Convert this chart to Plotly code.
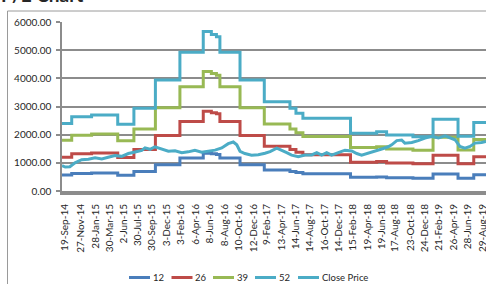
import pandas as pd
import plotly.graph_objects as go

# ---- data ----
tick_labels = ["19-Sep-14", "27-Nov-14", "28-Jan-15", "30-Mar-15", "2-Jun-15", "30-Jul-15",
               "30-Sep-15", "3-Dec-15", "3-Feb-16", "6-Apr-16", "8-Jun-16", "8-Aug-16",
               "10-Oct-16", "12-Dec-16", "9-Feb-17", "13-Apr-17", "14-Jun-17", "14-Aug-17",
               "16-Oct-17", "14-Dec-17", "15-Feb-18", "19-Apr-18", "19-Jun-18", "17-Aug-18",
               "23-Oct-18", "24-Dec-18", "21-Feb-19", "26-Apr-19", "28-Jun-19", "29-Aug-19"]

band_dates = ["2014-09-06", "2014-10-18", "2015-01-12", "2015-05-05", "2015-07-14", "2015-10-15",
              "2016-01-29", "2016-05-09", "2016-06-13", "2016-07-05", "2016-07-20", "2016-10-15",
              "2017-01-28", "2017-05-19", "2017-06-14", "2017-07-14", "2018-02-05", "2018-05-29",
              "2018-07-11", "2018-11-02", "2019-01-28", "2019-05-16", "2019-07-23", "2019-09-20"]

pe12 = [570, 625, 640, 560, 695, 935, 1170, 1340, 1320, 1300, 1170, 935,
        750, 695, 655, 610, 485, 500, 470, 455, 600, 455, 575, 575]
pe26 = [1200, 1320, 1350, 1185, 1470, 1970, 2465, 2830, 2780, 2740, 2465, 1970,
        1585, 1470, 1380, 1290, 1025, 1050, 995, 965, 1270, 970, 1215, 1215]
pe39 = [1800, 1980, 2025, 1780, 2205, 2955, 3700, 4245, 4170, 4110, 3700, 2955,
        2380, 2205, 2070, 1935, 1540, 1575, 1495, 1450, 1910, 1455, 1825, 1825]
pe52 = [2400, 2640, 2700, 2370, 2940, 3940, 4930, 5660, 5560, 5480, 4930, 3940,
        3170, 2940, 2760, 2580, 2050, 2100, 1990, 1930, 2545, 1940, 2430, 2430]

close_dates = ["2014-09-06", "2014-09-20", "2014-10-10", "2014-11-01", "2014-11-30", "2014-12-29",
               "2015-01-27", "2015-02-25", "2015-03-25", "2015-04-23", "2015-05-22", "2015-06-20",
               "2015-07-19", "2015-08-17", "2015-08-31", "2015-09-22", "2015-10-13", "2015-11-11",
               "2015-12-10", "2016-01-08", "2016-02-06", "2016-03-05", "2016-04-03", "2016-05-02",
               "2016-05-31", "2016-06-29", "2016-07-28", "2016-08-25", "2016-09-16", "2016-10-01",
               "2016-10-15", "2016-11-05", "2016-12-04", "2017-01-02", "2017-01-31", "2017-02-22",
               "2017-03-23", "2017-04-13", "2017-05-05", "2017-05-26", "2017-06-24", "2017-07-23",
               "2017-08-21", "2017-09-12", "2017-10-03", "2017-10-25", "2017-11-15", "2017-12-14",
               "2018-01-12", "2018-02-10", "2018-03-04", "2018-03-25", "2018-04-16", "2018-05-07",
               "2018-06-05", "2018-06-27", "2018-07-18", "2018-08-02", "2018-08-24", "2018-09-14",
               "2018-09-28", "2018-10-28", "2018-11-25", "2018-12-24", "2019-01-22", "2019-02-20",
               "2019-03-21", "2019-04-11", "2019-05-03", "2019-05-24", "2019-06-15", "2019-07-07",
               "2019-07-28", "2019-08-26", "2019-09-14"]
close_price = [900, 850, 860, 1000, 1110, 1130, 1180, 1140, 1200, 1260, 1230, 1330,
               1385, 1440, 1530, 1480, 1570, 1480, 1410, 1430, 1360, 1390, 1445, 1380,
               1420, 1450, 1530, 1680, 1740, 1640, 1410, 1330, 1270, 1290, 1340, 1400,
               1520, 1450, 1360, 1275, 1215, 1275, 1280, 1360, 1275, 1360, 1275, 1360,
               1450, 1420, 1330, 1275, 1330, 1360, 1450, 1510, 1570, 1640, 1790, 1810,
               1700, 1720, 1790, 1880, 1940, 1880, 1960, 1880, 1820, 1580, 1520, 1580,
               1700, 1720, 1760]

series_names = ["12", "26", "39", "52", "Close Price"]
series_colors = ["#4A7EBB", "#BE4B48", "#98B954", "#4BACC6", "#4BACC6"]

# ---- figure ----
W, H = 486, 284
ML, MR, MT, MB = 62, 0, 22, 93
PW, PH = W - ML - MR, H - MT - MB

def px(x):
    return (x - ML) / PW

def py(y):
    return (H - MB - y) / PH

FONT = "Lato, 'Open Sans', sans-serif"
TXT = "#262626"
GRID = "#8c8c8c"

fig = go.Figure()
band_values = [pe12, pe26, pe39, pe52]
for name, vals, col in zip(series_names[:4], band_values, series_colors[:4]):
    fig.add_trace(go.Scatter(x=band_dates, y=vals, name=name, mode="lines",
                             line=dict(color=col, width=3, shape="hv"), showlegend=False))
fig.add_trace(go.Scatter(x=close_dates, y=close_price, name=series_names[4], mode="lines",
                         line=dict(color=series_colors[4], width=3), showlegend=False))

tick_dates = pd.to_datetime(tick_labels, format="%d-%b-%y")

fig.update_layout(
    width=W, height=H, autosize=False,
    margin=dict(l=ML, r=MR, t=MT, b=MB, pad=0),
    paper_bgcolor="white", plot_bgcolor="white",
    font=dict(family=FONT, size=10, color=TXT),
    xaxis=dict(type="date", range=["2014-09-06", "2019-09-14"],
               tickvals=tick_dates, ticktext=tick_labels, tickangle=-90,
               tickfont=dict(family=FONT, size=10, color=TXT),
               showgrid=False, zeroline=False, showline=True, linecolor=GRID, linewidth=4,
               ticks="", ticklabelstandoff=5, automargin=False, ticklabeloverflow="allow"),
    yaxis=dict(range=[0, 6000], tick0=0, dtick=1000, tickformat=".2f",
               tickfont=dict(family=FONT, size=10, color=TXT),
               showgrid=True, gridcolor=GRID, gridwidth=1.5, zeroline=False,
               showline=True, linecolor=GRID, linewidth=1.5,
               ticks="outside", ticklen=4, tickcolor=GRID, tickwidth=1.5,
               ticklabelstandoff=3, automargin=False),
)

shapes = [dict(type="rect", xref="paper", yref="paper",
               x0=px(7.5), x1=px(520), y0=py(320), y1=py(11),
               line=dict(color="#9a9a9a", width=1), fillcolor="rgba(0,0,0,0)", layer="below")]
annotations = [dict(text="<b>P/E Chart</b>", xref="paper", yref="paper",
                    x=px(-1), y=py(-5.5), xanchor="left", yanchor="middle", showarrow=False,
                    font=dict(family=FONT, size=19, color=TXT))]

# custom legend (line sample + label), laid out like the original
leg_line_x = [129, 171.5, 213, 255, 298]
leg_y = 277.5
for name, col, lx in zip(series_names, series_colors, leg_line_x):
    shapes.append(dict(type="line", xref="paper", yref="paper",
                       x0=px(lx), x1=px(lx + 21), y0=py(leg_y), y1=py(leg_y),
                       line=dict(color=col, width=3)))
    annotations.append(dict(text=name, xref="paper", yref="paper",
                            x=px(lx + 21.5), y=py(leg_y), xanchor="left", yanchor="middle",
                            showarrow=False, font=dict(family=FONT, size=9.5, color=TXT)))

fig.update_layout(shapes=shapes, annotations=annotations)
fig.write_html("out.html", config={"displayModeBar": False},
               post_script="document.body.style.margin='0';document.body.style.overflow='hidden';")
